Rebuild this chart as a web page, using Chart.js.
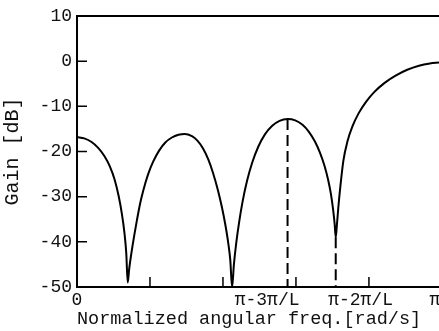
<!DOCTYPE html>
<html><head><meta charset="utf-8">
<script src="https://cdn.jsdelivr.net/npm/chart.js@4"></script>
<style>html,body{margin:0;padding:0;background:#fff}#wrap{width:439px;height:331px}</style>
</head><body><div id="wrap"><canvas id="c" width="439" height="331"></canvas></div>
<script>
// Normalized frequency (omega/pi) and gain in dB
const freq   = [0.000, 0.020, 0.040, 0.058, 0.075, 0.090, 0.103, 0.114, 0.123, 0.130, 0.135, 0.139,
                0.143, 0.150, 0.157, 0.164, 0.173, 0.182, 0.195, 0.209, 0.225, 0.242, 0.260, 0.278, 0.295,
                0.315, 0.330, 0.345, 0.360, 0.373, 0.386, 0.397, 0.406, 0.414, 0.420, 0.425,
                0.430, 0.436, 0.444, 0.454, 0.466, 0.480, 0.497, 0.515, 0.535, 0.555, 0.577,
                0.598, 0.618, 0.636, 0.652, 0.666, 0.678, 0.688, 0.696, 0.702, 0.706, 0.709,
                0.712, 0.716, 0.722, 0.730, 0.741, 0.755, 0.772, 0.792, 0.815, 0.843, 0.873, 0.905, 0.937, 0.967, 0.992];
const gainDb = [-16.8, -17.1, -17.9, -19.2, -21.0, -23.3, -26.2, -29.8, -33.8, -38.0, -42.5, -49.0,
                -46.0, -42.0, -38.5, -35.3, -31.5, -28.5, -25.0, -22.2, -19.8, -18.0, -16.9, -16.3, -16.1,
                -16.6, -17.6, -19.3, -21.8, -24.8, -28.5, -32.3, -36.0, -40.0, -44.0, -50.0,
                -45.0, -40.5, -35.8, -31.0, -26.5, -22.5, -18.9, -16.2, -14.3, -13.2, -12.8,
                -13.1, -14.1, -15.7, -17.8, -20.3, -23.1, -26.2, -29.5, -33.0, -36.0, -39.0,
                -36.5, -32.5, -27.5, -22.0, -17.8, -14.4, -11.5, -9.0, -6.8, -4.8, -3.2, -1.9, -1.0, -0.5, -0.3];
// Dashed marker lines
const markerFreq = [0.577, 0.709];
const markerGain = [-12.8, -39.0];
// Axes
const yTickValues = [10, 0, -10, -20, -30, -40, -50];
const yInnerTicks = [0, -10, -20, -30, -40];
const xMinorTicks = [0.2, 0.4, 0.6, 0.8];
const xLabelPos  = [0, 0.521, 0.777, 0.981];
const xLabelText = ['0', 'π-3π/L', 'π-2π/L', 'π'];

const INK = '#000';
const FONT = 'Liberation Mono';

const frame = {
  id: 'frame',
  afterDatasetsDraw(chart) {
    const {ctx, chartArea: a, scales: {x, y}} = chart;
    ctx.save();
    ctx.strokeStyle = INK;
    ctx.lineWidth = 2;
    ctx.beginPath();
    ctx.moveTo(a.left - 1, a.top); ctx.lineTo(a.right, a.top);
    ctx.stroke();
    ctx.lineWidth = 1.5;
    ctx.beginPath();
    for (const v of xMinorTicks) {
      const px = x.getPixelForValue(v);
      ctx.moveTo(px, a.bottom); ctx.lineTo(px, a.bottom - 10);
    }
    for (const v of yInnerTicks) {
      const py = y.getPixelForValue(v);
      ctx.moveTo(a.left, py); ctx.lineTo(a.left + 10, py);
    }
    ctx.stroke();
    ctx.restore();
  }
};

const datasets = [{
  data: freq.map((f, i) => ({x: f, y: gainDb[i]})),
  borderColor: INK, borderWidth: 2, pointRadius: 0,
  cubicInterpolationMode: 'monotone'
}];
markerFreq.forEach((f, i) => datasets.push({
  data: [{x: f, y: markerGain[i]}, {x: f, y: -50}],
  borderColor: INK, borderWidth: 2, pointRadius: 0, borderDash: [11, 5]
}));

new Chart(document.getElementById('c'), {
  type: 'line',
  data: {datasets},
  plugins: [frame],
  options: {
    responsive: false, animation: false, devicePixelRatio: 1,
    layout: {padding: {top: 16, right: 0, bottom: 0, left: 0}},
    plugins: {legend: {display: false}, tooltip: {enabled: false}},
    scales: {
      x: {
        type: 'linear', min: 0, max: 0.992, position: 'bottom',
        grid: {display: false, drawTicks: false},
        border: {display: true, color: INK, width: 2},
        afterBuildTicks: s => { s.ticks = xLabelPos.map(v => ({value: v})); },
        ticks: {
          font: {family: FONT, size: 18}, color: '#111', padding: 2,
          maxRotation: 0, autoSkip: false,
          callback: (v, i) => xLabelText[i]
        },
        title: {display: true, text: 'Normalized angular freq.[rad/s]', align: 'start',
          font: {family: FONT, size: 18.5}, color: '#111', padding: {top: 0, bottom: 1}},
        afterFit: s => { s.height = 44; s.paddingLeft = 0; s.paddingRight = 0; }
      },
      y: {
        type: 'linear', min: -50, max: 10,
        grid: {display: false, drawTicks: false},
        border: {display: true, color: INK, width: 2},
        afterBuildTicks: s => { s.ticks = yTickValues.map(v => ({value: v})); },
        ticks: {font: {family: FONT, size: 18}, color: '#111', padding: 5,
          callback: v => String(v)},
        title: {display: true, text: 'Gain [dB]',
          font: {family: FONT, size: 20}, color: '#111', padding: {top: 1, bottom: 0}},
        afterFit: s => { s.width = 77; }
      }
    }
  }
});
</script>
</body></html>
